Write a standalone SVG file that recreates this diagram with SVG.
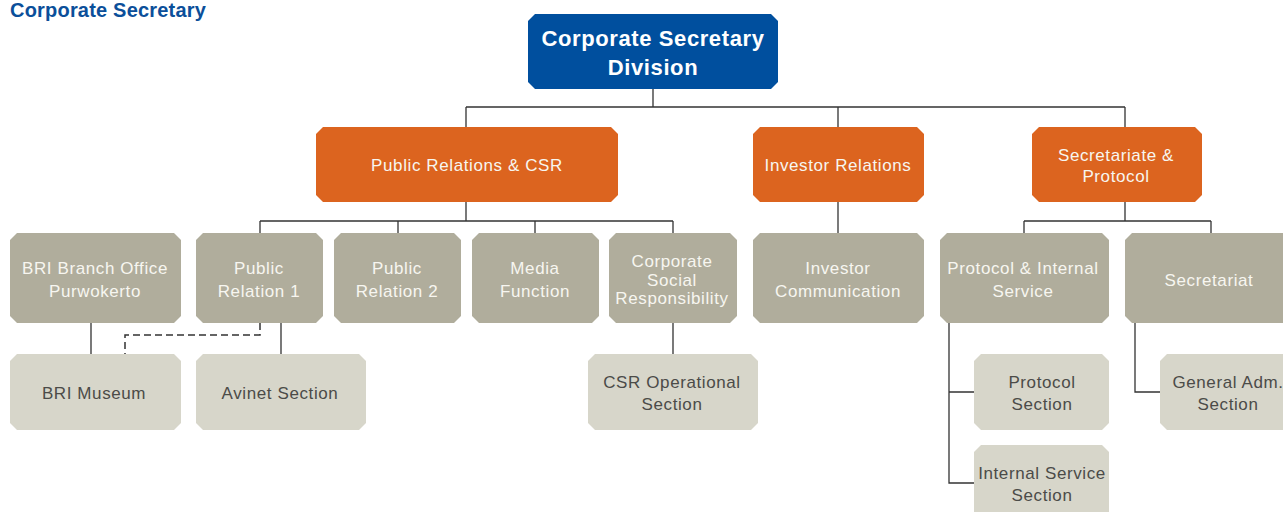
<svg xmlns="http://www.w3.org/2000/svg" width="1283" height="512" viewBox="0 0 1283 512">
<defs>
<style>
.t{font-family:"Liberation Sans",Arial,sans-serif;text-anchor:middle;letter-spacing:0.6px}
.w{fill:#f7f6f0;font-size:17px}
.d{fill:#4b4b48;font-size:17px}
.blue{fill:#004f9e}
.or{fill:#dc641f}
.g1{fill:#b0ad9c}
.g2{fill:#d7d6ca}
.ln{fill:none;stroke:#333;stroke-width:1.3}
.dash{fill:none;stroke:#333;stroke-width:1.5;stroke-dasharray:7 4}
</style>
</defs>
<rect width="1283" height="512" fill="#fff"/>
<text x="10" y="17" font-family="Liberation Sans,Arial,sans-serif" font-weight="bold" font-size="20" letter-spacing="0.2" fill="#0b4f9a">Corporate Secretary</text>
<g id="connectors">
<path class="ln" d="M653 89V107M466 107H1125M466 107V127M838 107V127M1125 107V127"/>
<path class="ln" d="M466 202V221M260 221H673M260 221V233M398 221V233M535 221V233M673 221V233"/>
<path class="ln" d="M838 202V233"/>
<path class="ln" d="M1125 202V221M1024 221H1211M1024 221V233M1211 221V233"/>
<path class="ln" d="M91 323V354M281 323V354M673 323V354"/>
<path class="dash" d="M260 323V335H125V354"/>
<path class="ln" d="M949 323V483H974M949 392H974"/>
<path class="ln" d="M1135 323V392H1160"/>
</g>
<g id="n-top"><polygon class="blue" points="535,14 771,14 778,21 778,82 771,89 535,89 528,82 528,21"/>
<text class="t" x="653" y="46" font-size="22" font-weight="bold" fill="#fff">Corporate Secretary</text>
<text class="t" x="653" y="75" font-size="22" font-weight="bold" fill="#fff">Division</text></g>
<g id="n-prcsr"><polygon class="or" points="323,127 611,127 618,134 618,195 611,202 323,202 316,195 316,134"/>
<text class="t w" x="467" y="171">Public Relations &amp; CSR</text></g>
<g id="n-ir"><polygon class="or" points="760,127 917,127 924,134 924,195 917,202 760,202 753,195 753,134"/>
<text class="t w" x="838" y="171">Investor Relations</text></g>
<g id="n-sp"><polygon class="or" points="1039,127 1195,127 1202,134 1202,195 1195,202 1039,202 1032,195 1032,134"/>
<text class="t w" x="1116" y="161">Secretariate &amp;</text>
<text class="t w" x="1116" y="182">Protocol</text></g>
<g id="n-bri"><polygon class="g1" points="17,233 174,233 181,240 181,316 174,323 17,323 10,316 10,240"/>
<text class="t w" x="95" y="274">BRI Branch Office</text>
<text class="t w" x="95" y="297">Purwokerto</text></g>
<g id="n-pr1"><polygon class="g1" points="203,233 316,233 323,240 323,316 316,323 203,323 196,316 196,240"/>
<text class="t w" x="259" y="274">Public</text>
<text class="t w" x="259" y="297">Relation 1</text></g>
<g id="n-pr2"><polygon class="g1" points="341,233 454,233 461,240 461,316 454,323 341,323 334,316 334,240"/>
<text class="t w" x="397" y="274">Public</text>
<text class="t w" x="397" y="297">Relation 2</text></g>
<g id="n-media"><polygon class="g1" points="479,233 592,233 599,240 599,316 592,323 479,323 472,316 472,240"/>
<text class="t w" x="535" y="274">Media</text>
<text class="t w" x="535" y="297">Function</text></g>
<g id="n-csr"><polygon class="g1" points="616,233 730,233 737,240 737,316 730,323 616,323 609,316 609,240"/>
<text class="t w" x="672" y="267" font-size="16">Corporate</text>
<text class="t w" x="672" y="286" font-size="16">Social</text>
<text class="t w" x="672" y="304" font-size="16">Responsibility</text></g>
<g id="n-ic"><polygon class="g1" points="760,233 917,233 924,240 924,316 917,323 760,323 753,316 753,240"/>
<text class="t w" x="838" y="274">Investor</text>
<text class="t w" x="838" y="297">Communication</text></g>
<g id="n-pis"><polygon class="g1" points="947,233 1102,233 1109,240 1109,316 1102,323 947,323 940,316 940,240"/>
<text class="t w" x="1023" y="274">Protocol &amp; Internal</text>
<text class="t w" x="1023" y="297">Service</text></g>
<g id="n-sec"><polygon class="g1" points="1132,233 1287,233 1294,240 1294,316 1287,323 1132,323 1125,316 1125,240"/>
<text class="t w" x="1209" y="286">Secretariat</text></g>
<g id="n-museum"><polygon class="g2" points="17,354 174,354 181,361 181,423 174,430 17,430 10,423 10,361"/>
<text class="t d" x="94" y="399">BRI Museum</text></g>
<g id="n-avinet"><polygon class="g2" points="203,354 359,354 366,361 366,423 359,430 203,430 196,423 196,361"/>
<text class="t d" x="280" y="399">Avinet Section</text></g>
<g id="n-csrop"><polygon class="g2" points="595,354 751,354 758,361 758,423 751,430 595,430 588,423 588,361"/>
<text class="t d" x="672" y="388">CSR Operational</text>
<text class="t d" x="672" y="410">Section</text></g>
<g id="n-prot"><polygon class="g2" points="981,354 1102,354 1109,361 1109,423 1102,430 981,430 974,423 974,361"/>
<text class="t d" x="1042" y="388">Protocol</text>
<text class="t d" x="1042" y="410">Section</text></g>
<g id="n-iss"><polygon class="g2" points="981,445 1102,445 1109,452 1109,514 1102,521 981,521 974,514 974,452"/>
<text class="t d" x="1042" y="479">Internal Service</text>
<text class="t d" x="1042" y="501">Section</text></g>
<g id="n-gen"><polygon class="g2" points="1167,354 1290,354 1297,361 1297,423 1290,430 1167,430 1160,423 1160,361"/>
<text class="t d" x="1228" y="388">General Adm.</text>
<text class="t d" x="1228" y="410">Section</text></g>
</svg>
